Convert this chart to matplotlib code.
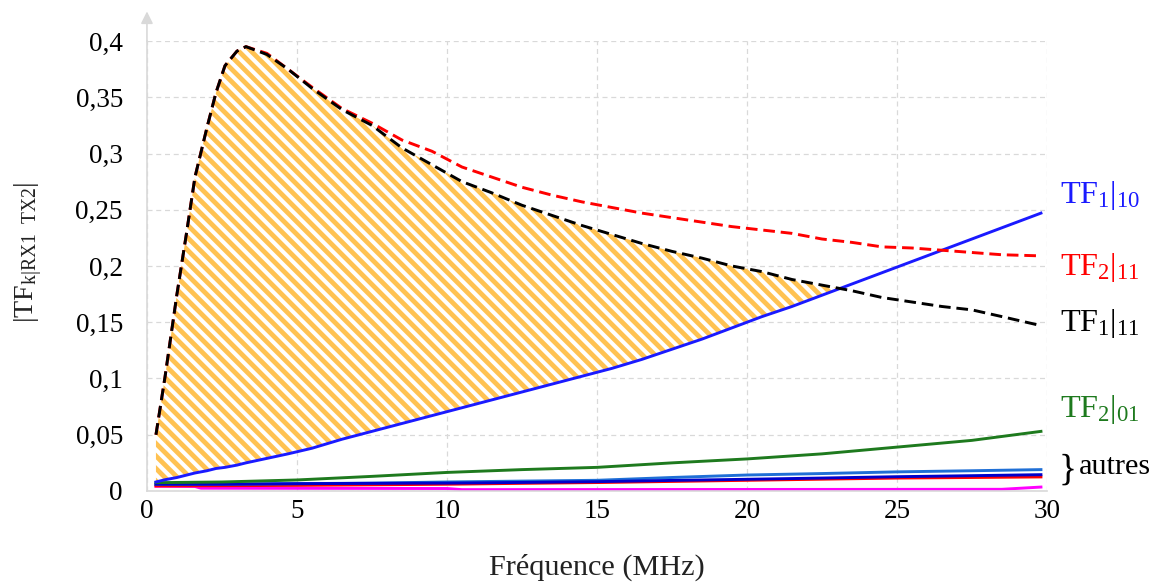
import matplotlib
matplotlib.use('Agg')
import matplotlib.pyplot as plt
import numpy as np

# Fréquences communes des courbes principales (MHz)
freq = [0.3, 0.6, 1.0, 1.3, 1.6, 2.0, 2.3, 2.6, 3.0, 3.3, 4.0, 4.7, 5.5, 6.5, 7.5,
        8.5, 9.5, 10.5, 11.5, 12.5, 13.5, 14.5, 15.5, 16.5, 17.5, 18.5, 19.5,
        20.5, 21.5, 22.5, 23.5, 24.5, 25.5, 26.5, 27.5, 28.5, 29.8]

# TF1|11 (noir, tirets)
tf1_11 = [0.050, 0.101, 0.175, 0.226, 0.279, 0.323, 0.354, 0.378, 0.391, 0.395, 0.388,
          0.375, 0.358, 0.339, 0.325, 0.305, 0.290, 0.275, 0.265, 0.254, 0.245, 0.236,
          0.228, 0.220, 0.213, 0.207, 0.200, 0.195, 0.188, 0.183, 0.178, 0.172, 0.168,
          0.164, 0.161, 0.155, 0.147]

# TF2|11 (rouge, tirets)
tf2_11 = [0.050, 0.101, 0.175, 0.226, 0.279, 0.323, 0.354, 0.378, 0.391, 0.395, 0.389,
          0.375, 0.359, 0.340, 0.327, 0.312, 0.302, 0.288, 0.279, 0.270, 0.263, 0.257,
          0.252, 0.247, 0.243, 0.239, 0.235, 0.232, 0.229, 0.224, 0.221, 0.217, 0.216,
          0.214, 0.212, 0.210, 0.209]

# TF1|10 (bleu)
tf1_10 = [0.008, 0.010, 0.012, 0.014, 0.016, 0.018, 0.020, 0.021, 0.023, 0.025, 0.029,
          0.033, 0.038, 0.046, 0.053, 0.060, 0.067, 0.074, 0.081, 0.088, 0.095, 0.102,
          0.109, 0.117, 0.126, 0.135, 0.145, 0.155, 0.164, 0.174, 0.184, 0.194, 0.204,
          0.214, 0.224, 0.234, 0.247]

# Autres courbes (bas du graphique)
freq_b = [0.3, 2.5, 5, 7.5, 10, 12.5, 15, 17.5, 20, 22.5, 25, 27.5, 29.8]
tf2_01 = [0.0074, 0.008, 0.0098, 0.013, 0.0165, 0.019, 0.021, 0.025, 0.0285, 0.033,
          0.039, 0.045, 0.053]
autre_bleu_clair = [0.006, 0.006, 0.0065, 0.007, 0.008, 0.0088, 0.0095, 0.012, 0.0142,
                    0.0155, 0.017, 0.018, 0.019]
autre_bleu = [0.006, 0.006, 0.0065, 0.0068, 0.007, 0.0076, 0.0083, 0.0094, 0.0104,
              0.0115, 0.0127, 0.0136, 0.0145]
autre_rouge = [0.0045, 0.0047, 0.005, 0.0055, 0.006, 0.0068, 0.0075, 0.0085, 0.0095,
               0.0105, 0.0115, 0.012, 0.0125]
freq_m = [0.3, 1.6, 1.8, 10.0, 10.5, 28.5, 29.8]
autre_magenta = [0.0042, 0.0040, 0.0025, 0.0022, 0.0012, 0.0015, 0.0035]

xticks = [0, 5, 10, 15, 20, 25, 30]
yticks = [0, 0.05, 0.1, 0.15, 0.2, 0.25, 0.3, 0.35, 0.4]
ytick_labels = ['0', '0,05', '0,1', '0,15', '0,2', '0,25', '0,3', '0,35', '0,4']

plt.rcParams['font.family'] = ['Liberation Serif', 'DejaVu Serif']
plt.rcParams['mathtext.fontset'] = 'custom'
plt.rcParams['mathtext.rm'] = 'Liberation Serif'
plt.rcParams['mathtext.it'] = 'Liberation Serif:italic'
plt.rcParams['hatch.linewidth'] = 2.3

fig = plt.figure(figsize=(1158 / 150, 585 / 150), dpi=150)
ax = fig.add_axes([0.1269, 0.1607, 0.7772, 0.7692])

gris = '#d9d9d9'

# Zone hachurée entre TF1|11 et TF1|10
f = np.array(freq)
haut = np.array(tf1_11)
bas = np.array(tf1_10)
ax.fill_between(f, bas, haut, where=haut >= bas, interpolate=True,
                facecolor='white', edgecolor='#ffc252', hatch='\\\\\\\\', linewidth=0)

# Courbes du bas
ax.plot(freq_m, autre_magenta, color='#ff00ff', lw=1.4)
ax.plot(freq_b, autre_rouge, color='#ff0000', lw=1.4)
ax.plot(freq_b, autre_bleu_clair, color='#1f6fd6', lw=1.4)
ax.plot(freq_b, autre_bleu, color='#0000cc', lw=1.4)
ax.plot(freq_b, tf2_01, color='#1e7a1e', lw=1.4)

# Courbes principales
ax.plot(freq, tf1_10, color='#1a1aff', lw=1.4)
ax.plot(freq, tf2_11, color='#ff0000', lw=1.4, dashes=(4, 2))
ax.plot(freq, tf1_11, color='black', lw=1.4, dashes=(4, 2))

ax.set_xlim(0, 30)
ax.set_ylim(0, 0.4)
ax.set_xticks(xticks)
ax.set_yticks(yticks)
ax.set_yticklabels(ytick_labels)
ax.tick_params(length=0, labelsize=13)
ax.tick_params(axis='y', pad=11.5)
ax.tick_params(axis='x', pad=4)

ax.grid(True, color=gris, linestyle=(0, (4, 3)), lw=0.6)
ax.set_axisbelow(True)
for s in ['top', 'right']:
    ax.spines[s].set_visible(False)
for s in ['left', 'bottom']:
    ax.spines[s].set_color(gris)
    ax.spines[s].set_linewidth(0.8)

# Flèche de l'axe vertical
ax.annotate('', xy=(0, 1.075), xytext=(0, 0.99), xycoords='axes fraction',
            arrowprops=dict(arrowstyle='-|>', color=gris, lw=0.8, mutation_scale=12))

ax.set_xlabel('Fréquence (MHz)', fontsize=14.5, color='#222222')
ax.xaxis.set_label_coords(0.5, -0.14)
ax.set_ylabel(r'|TF$_{\mathrm{k|RX1\ \ TX2}}$|', fontsize=13.5, color='#222222')
ax.yaxis.set_label_coords(-0.113, 0.53)

# Étiquettes à droite
lab = dict(fontsize=15.5, ha='left', va='center', clip_on=False)
ax.text(30.45, 0.263, r'TF$_1$|$_{10}$', color='#1a1aff', **lab)
ax.text(30.45, 0.199, r'TF$_2$|$_{11}$', color='#ff0000', **lab)
ax.text(30.45, 0.149, r'TF$_1$|$_{11}$', color='black', **lab)
ax.text(30.45, 0.072, r'TF$_2$|$_{01}$', color='#1e7a1e', **lab)
ax.text(30.4, 0.018, '}', fontsize=18, ha='left', va='center', clip_on=False)
ax.text(31.05, 0.021, 'autres', fontsize=14.5, ha='left', va='center', clip_on=False)

fig.savefig('out.png', dpi=150)
